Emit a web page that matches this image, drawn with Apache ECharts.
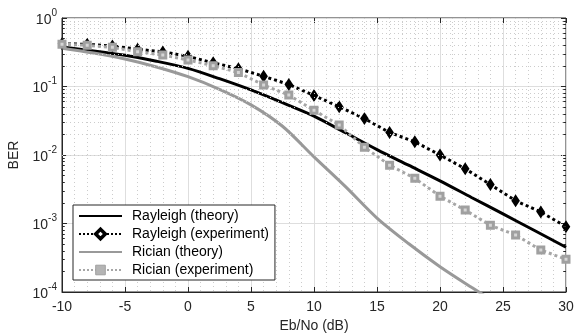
<!DOCTYPE html>
<html>
<head>
  <meta charset="utf-8">
  <title>BER vs Eb/No</title>
  <script src="https://cdn.jsdelivr.net/npm/echarts@6/dist/echarts.min.js"></script>
  <style>
    html, body { margin: 0; padding: 0; background: #fff; }
    #chart { width: 576px; height: 334px; }
  </style>
</head>
<body>
  <div id="chart"></div>
  <script>
    // Eb/No for the theory curves and the simulated points
    var snrTheory = [-10, -7.5, -5, -2.5, 0, 2.5, 5, 7.5, 10, 12.5, 15, 17.5, 20, 22.5, 25, 27.5, 30];
    var snrExp = [-10, -8, -6, -4, -2, 0, 2, 4, 6, 8, 10, 12, 14, 16, 18, 20, 22, 24, 26, 28, 30];

    var rayleighTheory = [0.376, 0.331, 0.285, 0.234, 0.184, 0.130, 0.089, 0.058, 0.037, 0.0211, 0.0120,
      0.0071, 0.0042, 0.0024, 0.00138, 0.00079, 0.00045];
    var ricianTheory = [0.363, 0.309, 0.252, 0.193, 0.139, 0.091, 0.054, 0.0263, 0.0094, 0.00345, 0.0012,
      0.00051, 0.000234, 0.000117, 0.00006];

    var rayleighExp = [0.42, 0.413, 0.39, 0.35, 0.32, 0.276, 0.222, 0.182, 0.141, 0.107, 0.074, 0.0505,
      0.034, 0.0213, 0.0156, 0.0100, 0.0063, 0.0037, 0.00215, 0.00147, 0.0009];
    var ricianExp = [0.415, 0.40, 0.373, 0.322, 0.288, 0.244, 0.201, 0.160, 0.105, 0.075, 0.0449, 0.0274,
      0.0130, 0.0071, 0.00457, 0.00250, 0.00157, 0.00094, 0.00068, 0.00041, 0.00030];

    var seriesNames = ['Rayleigh (theory)', 'Rayleigh (experiment)', 'Rician (theory)', 'Rician (experiment)'];

    // log minor grid values (2..9 per decade)
    var yMinor = [];
    [1e-4, 1e-3, 1e-2, 1e-1].forEach(function (d) {
      for (var k = 2; k <= 9; k++) yMinor.push(+(d * k).toPrecision(3));
    });

    function pairs(xs, ys) {
      return ys.map(function (y, i) { return [xs[i], y]; });
    }

    var axisColor = '#262626';
    var font = 'Liberation Sans, Arial, Helvetica, sans-serif';

    var minorLines = yMinor.map(function (v) { return { yAxis: v }; });
    var minorTicksL = yMinor.map(function (v) { return [{ coord: [-10, v] }, { coord: [-9.78, v] }]; });
    var minorTicksR = yMinor.map(function (v) { return [{ coord: [29.78, v] }, { coord: [30, v] }]; });

    var chart = echarts.init(document.getElementById('chart'));
    chart.setOption({
      animation: false,
      textStyle: { fontFamily: font },
      grid: {
        left: 62, right: 10, top: 18, bottom: 42,
        outerBoundsMode: 'none',
        show: true, borderColor: axisColor, borderWidth: 1, backgroundColor: '#fff'
      },
      legend: {
        data: [
          { name: seriesNames[0], itemStyle: { opacity: 0 } },
          { name: seriesNames[1], itemStyle: { color: '#fff', borderColor: '#000', borderWidth: 3.5 } },
          { name: seriesNames[2], itemStyle: { opacity: 0 } },
          { name: seriesNames[3], itemStyle: { color: '#b4b4b4', borderColor: '#a0a0a0', borderWidth: 1 } }
        ],
        orient: 'vertical',
        left: 73, top: 205,
        backgroundColor: '#fff',
        borderColor: axisColor, borderWidth: 1, borderRadius: 0,
        padding: [3, 6, 2, 5],
        itemWidth: 43, itemHeight: 12, itemGap: 2,
        textStyle: { fontSize: 14, color: '#000', fontFamily: font, lineHeight: 16, padding: [0, 0, 0, 5] }
      },
      xAxis: [{
        type: 'value', min: -10, max: 30, interval: 5,
        name: 'Eb/No (dB)', nameLocation: 'middle', nameGap: 27,
        nameTextStyle: { fontSize: 14, color: axisColor, fontFamily: font },
        axisLine: { show: true, onZero: false, lineStyle: { color: axisColor } },
        axisTick: { inside: true, length: 5, lineStyle: { color: axisColor } },
        axisLabel: { fontSize: 14, color: axisColor, margin: 8, fontFamily: font },
        splitLine: { show: true, lineStyle: { color: '#dedede', width: 1 } },
        minorTick: { show: false, splitNumber: 5 },
        minorSplitLine: { show: true, lineStyle: { color: '#cccccc', width: 1, type: [1, 3] } }
      }, {
        type: 'value', min: -10, max: 30, interval: 5, position: 'top',
        axisLine: { show: false, onZero: false },
        axisTick: { inside: true, length: 5, lineStyle: { color: axisColor } },
        axisLabel: { show: false },
        splitLine: { show: false }
      }],
      yAxis: [{
        type: 'log', logBase: 10, min: 1e-4, max: 1,
        name: 'BER', nameLocation: 'middle', nameGap: 41, nameRotate: 90,
        nameTextStyle: { fontSize: 14, color: axisColor, fontFamily: font },
        axisLine: { show: true, onZero: false, lineStyle: { color: axisColor } },
        axisTick: { inside: true, length: 5, lineStyle: { color: axisColor } },
        axisLabel: {
          margin: 5, color: axisColor,
          formatter: function (v) {
            var e = String(Math.round(Math.log10(v)));
            // superscript on a short first line, base on the second with a hidden spacer
            return '{s|' + e + '}\n{b|10}{h|' + e + '}';
          },
          rich: {
            s: { fontSize: 10, color: axisColor, fontFamily: font, lineHeight: 4, align: 'right' },
            b: { fontSize: 14, color: axisColor, fontFamily: font, lineHeight: 10 },
            h: { fontSize: 10, color: 'transparent', fontFamily: font, lineHeight: 10 }
          }
        },
        splitLine: { show: true, lineStyle: { color: '#dedede', width: 1 } }
      }, {
        type: 'log', logBase: 10, min: 1e-4, max: 1, position: 'right',
        axisLine: { show: false, onZero: false },
        axisTick: { inside: true, length: 5, lineStyle: { color: axisColor } },
        axisLabel: { show: false },
        splitLine: { show: false }
      }],
      series: [{
        name: 'minor-grid',
        type: 'line', data: [], z: 1, silent: true,
        markLine: {
          silent: true, symbol: ['none', 'none'], label: { show: false },
          lineStyle: { color: '#cccccc', width: 1, type: [1, 3] },
          emphasis: { disabled: true },
          data: minorLines
        }
      }, {
        name: 'minor-ticks',
        type: 'line', data: [], z: 1, silent: true,
        markLine: {
          silent: true, symbol: ['none', 'none'], label: { show: false },
          lineStyle: { color: axisColor, width: 1, type: 'solid' },
          emphasis: { disabled: true },
          data: minorTicksL.concat(minorTicksR)
        }
      }, {
        name: seriesNames[0],
        type: 'line', data: pairs(snrTheory, rayleighTheory), smooth: 0.3,
        showSymbol: false, symbol: 'none', z: 3,
        lineStyle: { color: '#000', width: 3 }, itemStyle: { color: '#000' }
      }, {
        name: seriesNames[1],
        type: 'line', data: pairs(snrExp, rayleighExp), z: 4,
        symbol: 'diamond', symbolSize: [4, 6],
        lineStyle: { color: '#000', width: 3, type: 'dotted' },
        itemStyle: { color: '#fff', borderColor: '#000', borderWidth: 4 }
      }, {
        name: seriesNames[2],
        type: 'line', data: pairs(snrTheory, ricianTheory), smooth: 0.3,
        showSymbol: false, symbol: 'none', z: 3,
        lineStyle: { color: '#999999', width: 3 }, itemStyle: { color: '#999999' }
      }, {
        name: seriesNames[3],
        type: 'line', data: pairs(snrExp, ricianExp), z: 5,
        symbol: 'rect', symbolSize: 6,
        lineStyle: { color: '#a6a6a6', width: 3, type: 'dotted' },
        itemStyle: { color: '#d6d6d6', borderColor: '#a0a0a0', borderWidth: 3 }
      }]
    });
  </script>
</body>
</html>
